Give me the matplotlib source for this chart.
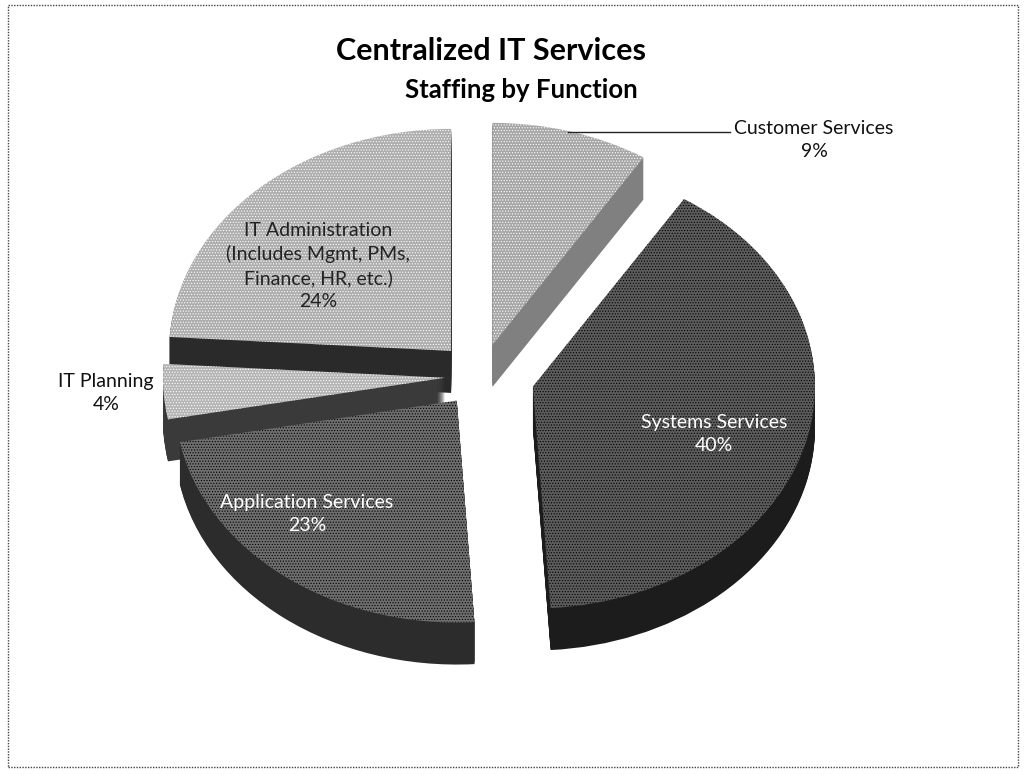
import matplotlib
matplotlib.use('Agg')
import matplotlib.pyplot as plt
from matplotlib.patches import Rectangle

plt.rcParams['font.family'] = ['Lato', 'DejaVu Sans']
plt.rcParams['hatch.linewidth'] = 0.5

functions = ['Customer Services', 'Systems Services', 'Application Services',
             'IT Planning', 'IT Administration']
shares = [9, 40, 23, 4, 24]

explode = [0.146, 0.19, 0.14, 0.128, 0.155]
top_colors = ['#a6a6a6', '#5c5c5c', '#6e6e6e', '#b4b4b4', '#adadad']
side_colors = ['#808080', '#1c1c1c', '#2c2c2c', '#3a3a3a', '#2a2a2a']
dot_colors = ['#ffffff', '#000000', '#000000', '#ffffff', '#ffffff']
draw_order = [4, 5, 3, 2, 1]  # planning sits over admin, application over planning

W, H = 1024, 774
CX, CY = 481, 376   # pie centre in pixels
RX, RY = 282, 222   # radii of the tilted pie in pixels
DEPTH = 42


def fx(px):
    return px / W


def fy(py):
    return 1 - py / H


fig = plt.figure(figsize=(W / 100, H / 100), dpi=100, facecolor='white')
ax = fig.add_axes([0, 0, 1, 1])


def draw_pie(d, top=False):
    wedges, _ = ax.pie(shares, explode=explode, startangle=90, counterclock=False,
                       radius=1, center=(0, -d / RY))
    for i, w in enumerate(wedges):
        w.set_zorder(draw_order[i] * 100 + (DEPTH - d))
        w.set_linewidth(0)
        if top:
            w.set_facecolor(top_colors[i])
            w.set_edgecolor(dot_colors[i])
            w.set_hatch('......')
        else:
            w.set_facecolor(side_colors[i])
            w.set_edgecolor(side_colors[i])


for d in range(DEPTH, 0, -1):
    draw_pie(d)
draw_pie(0, top=True)

ax.set_aspect('auto')
ax.set_xlim((0 - CX) / RX, (W - CX) / RX)
ax.set_ylim((CY - H) / RY, CY / RY)
ax.axis('off')

fig.patches.append(Rectangle((fx(8), fy(767)), fx(1010), 762 / H, transform=fig.transFigure,
                             fill=False, edgecolor='#444444', linewidth=1, linestyle=(0, (1, 1))))
fig.add_artist(plt.Line2D([fx(568), fx(730)], [fy(132), fy(132)], color='#222222', linewidth=1))

fig.text(fx(491), fy(51), 'Centralized IT Services', ha='center', va='center',
         fontsize=22, fontweight='bold', color='black')
fig.text(fx(521), fy(90), 'Staffing by Function', ha='center', va='center',
         fontsize=18.5, fontweight='bold', color='black')

labels = [
    (f'{functions[0]}\n{shares[0]}%', 814, 140, '#111111'),
    (f'{functions[1]}\n{shares[1]}%', 714, 434, 'white'),
    (f'{functions[2]}\n{shares[2]}%', 307, 514, 'white'),
    (f'{functions[3]}\n{shares[3]}%', 106, 393, '#111111'),
    (f'{functions[4]}\n(Includes Mgmt, PMs,\nFinance, HR, etc.)\n{shares[4]}%', 318, 266, '#222222'),
]
for txt, x, y, col in labels:
    fig.text(fx(x), fy(y), txt, ha='center', va='center', fontsize=14,
             color=col, linespacing=1.43, zorder=10)

plt.savefig('out.png', dpi=100)
